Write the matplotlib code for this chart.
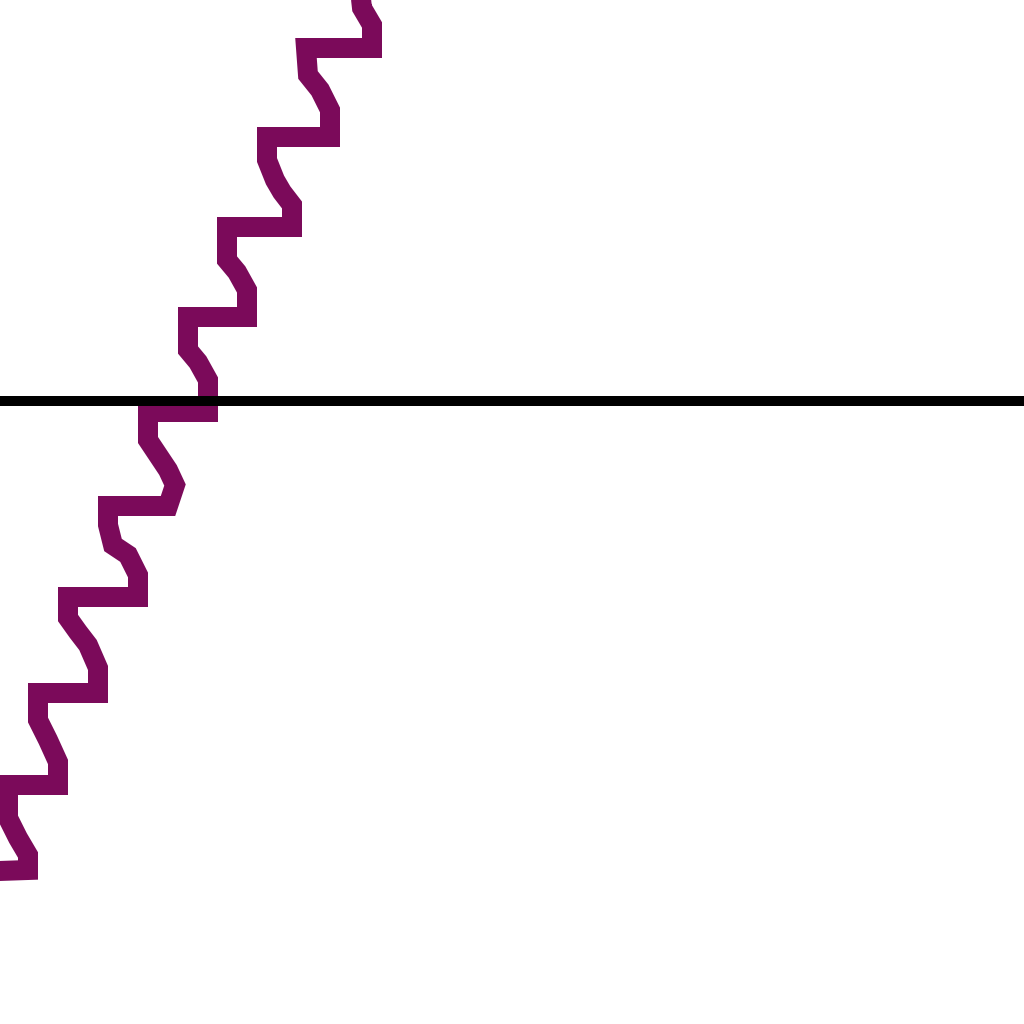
import matplotlib
matplotlib.use("Agg")
import matplotlib.pyplot as plt

# Path of the purple trace (x to the right, y up; black reference line at y = 0)
trace_x = [-3.0, 2.8, 2.8, 1.8, 0.8, 0.8, 5.8, 5.8, 4.8, 3.8, 3.8, 9.8, 9.8, 8.8, 7.8, 6.8, 6.8,
           13.8, 13.8, 12.8, 11.3, 10.8, 10.8, 16.8, 17.5, 16.8, 15.8, 14.8, 14.8, 20.8, 20.8,
           19.8, 18.8, 18.8, 24.7, 24.7, 23.7, 22.7, 22.7, 29.2, 29.2, 28.2, 27.5, 26.7, 26.7,
           33.0, 33.0, 32.0, 30.8, 30.6, 37.2, 37.2, 36.2, 36.0]
trace_y = [-47.1, -46.9, -45.4, -43.7, -41.7, -38.4, -38.4, -36.1, -33.9, -31.9, -29.2, -29.2,
           -26.7, -24.4, -23.1, -21.7, -19.6, -19.6, -17.4, -15.4, -14.4, -12.4, -10.5, -10.5,
           -8.4, -6.9, -5.4, -3.9, -1.1, -1.1, 2.1, 3.9, 5.1, 8.4, 8.4, 11.1, 12.9, 14.1, 17.4,
           17.4, 19.6, 20.9, 22.1, 24.1, 26.4, 26.4, 29.1, 31.1, 32.6, 35.3, 35.3, 37.6, 39.3, 41.1]
reference_y = 0.0

fig = plt.figure(figsize=(10.24, 10.24), dpi=100)
ax = fig.add_axes([0, 0, 1, 1])
ax.plot(trace_x, trace_y, color="#7b0a5a", lw=14.4, solid_joinstyle="miter",
        solid_capstyle="butt")
ax.axhline(reference_y, color="black", lw=7.2)
ax.set_xlim(0, 102.4)
ax.set_ylim(-62.3, 40.1)
ax.axis("off")
fig.savefig("out.png", dpi=100, facecolor="white")
